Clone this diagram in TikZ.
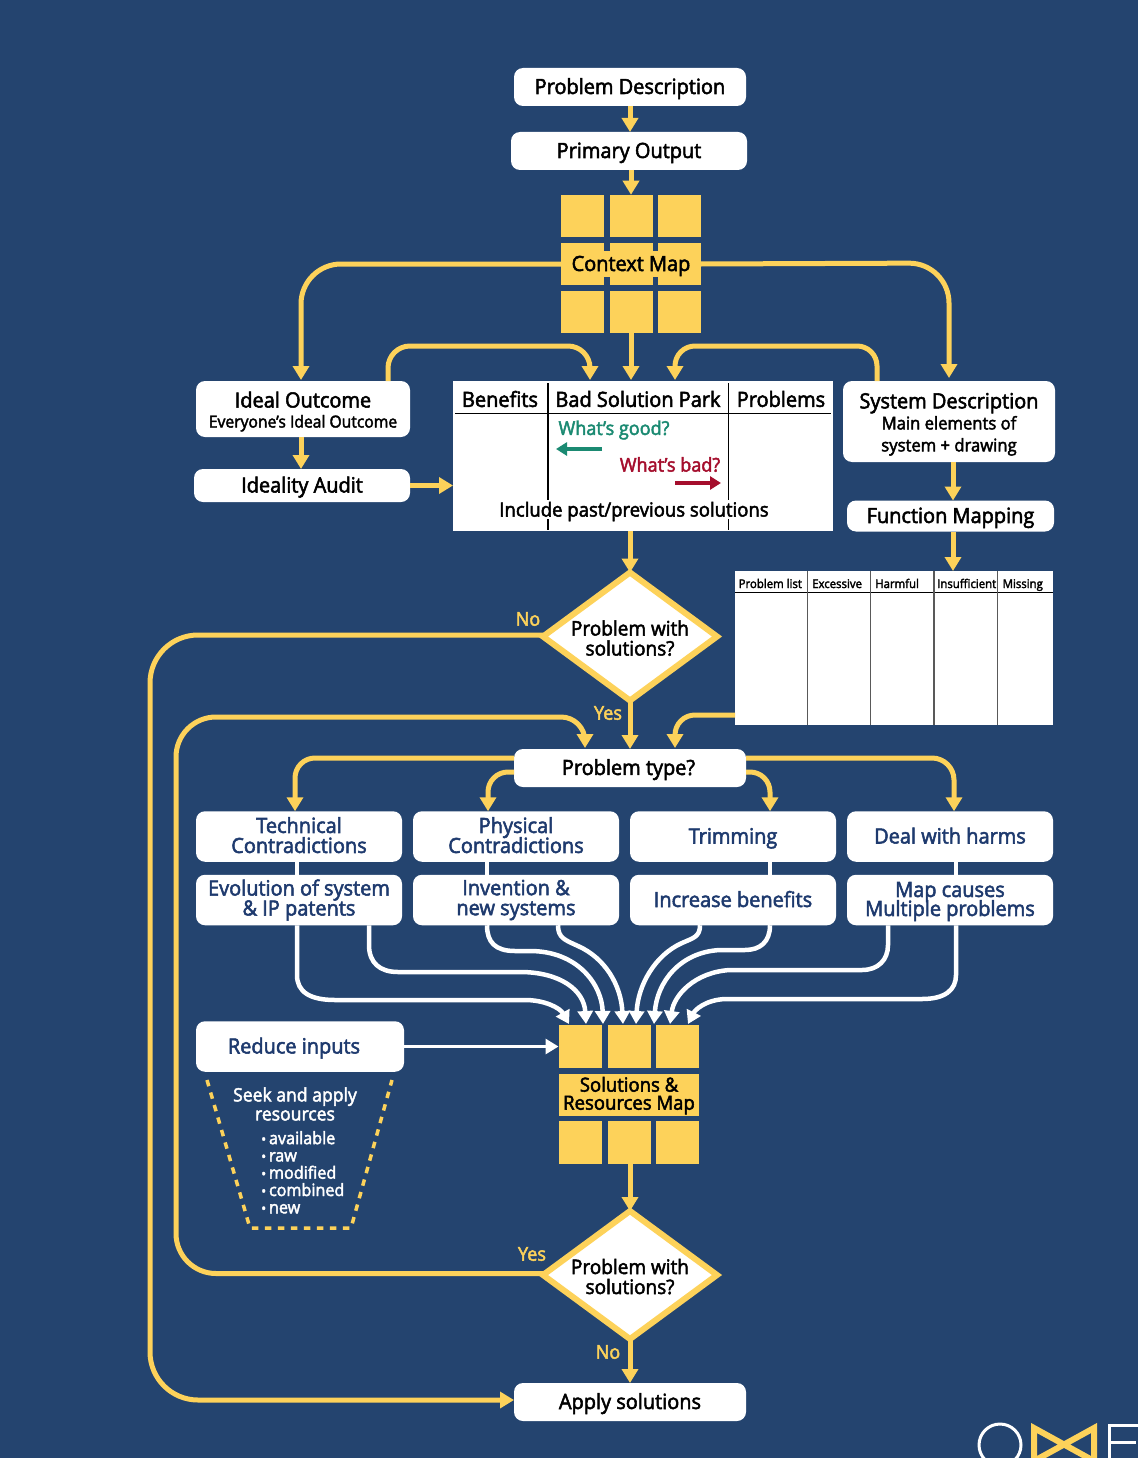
\documentclass[tikz,border=0pt]{standalone}
\usepackage{fontspec}
\setmainfont{Open Sans}[FakeStretch=0.95,FakeBold=2.5]
\usepackage{xcolor}
\usetikzlibrary{shapes.geometric,arrows.meta}
\definecolor{navybg}{HTML}{24446F}
\definecolor{navytext}{HTML}{1E3A6E}
\definecolor{mapyellow}{HTML}{FDD25A}
\definecolor{goodgreen}{HTML}{1B8A72}
\definecolor{badred}{HTML}{A50E2D}
\lineskiplimit=-100pt
\newcommand{\fsz}[2]{\fontsize{#1}{#2}\selectfont}
\newcommand{\vstrut}{\rule[-6pt]{0pt}{26pt}}
\newcommand{\twostrut}{\rule[-3pt]{0pt}{17pt}}

\begin{document}
\begin{tikzpicture}[x=1pt,y=-1pt]
        % Styles for boxes, map cells and the two sorts of arrow
        \tikzset{
            whitebox/.style={fill=white, rounded corners=9pt, inner sep=0pt, outer sep=0pt, align=center, font=\fsz{21}{20}},
            typebox/.style={whitebox, text=navytext, minimum width=206pt, minimum height=50.5pt},
            mapcell/.style={fill=mapyellow, inner sep=0pt, outer sep=0pt, minimum width=43pt, minimum height=42.5pt},
            decision/.style={diamond, shape aspect=1.36, draw=mapyellow, line width=6pt, fill=white, inner sep=-5pt, outer sep=0pt, align=center, minimum width=174pt, minimum height=128pt, font=\fsz{20}{20}},
            yarrow/.style={draw=mapyellow, line width=5pt, -{Triangle[width=16pt,length=14pt]}},
            warrow/.style={draw=white, line width=4.5pt, -{Triangle[width=15pt,length=13pt]}},
            wline/.style={draw=white, line width=4.5pt},
            answer/.style={text=mapyellow, inner sep=0pt, font=\fsz{19}{19}},
            columnhead/.style={anchor=base west, inner sep=0pt, font=\fsz{12}{12}},
            tablehead/.style={inner sep=0pt, font=\fsz{21}{21}}
        }

        % Background
        \fill[navybg] (0,0) rectangle (1138,1458);
        \useasboundingbox (0,0) rectangle (1138,1458);

        % Top boxes
        \node (probdesc) [whitebox, minimum width=232pt, minimum height=38pt] at (630,87) {\vstrut Problem Description};
        \node (primary) [whitebox, minimum width=236pt, minimum height=38pt] at (629,151) {\vstrut Primary Output};

        % Context map cells
        \foreach \col/\cx in {a/582.5,b/631,c/679.5}
            \foreach \row/\cy in {top/216,mid/264,bot/312}
                \node (cm\col\row) [mapcell] at (\cx,\cy) {};
        \node (cmlabel) [fill=mapyellow, inner sep=0pt, minimum width=116pt, minimum height=24pt, font=\fsz{21}{21}] at (631,264) {\vstrut Context Map};

        % Side boxes
        \node (ideal) [whitebox, minimum width=214pt, minimum height=56pt] at (303,409) {\rule{0pt}{21pt}Ideal Outcome\\{\fsz{16.5}{18}\rule[-2pt]{0pt}{2pt}Everyone’s Ideal Outcome}};
        \node (audit) [whitebox, minimum width=216pt, minimum height=33pt] at (302,485.5) {\vstrut Ideality Audit};
        \node (sysdesc) [whitebox, minimum width=212pt, minimum height=81pt] at (949,421.5) {\rule{0pt}{21pt}System Description\\[1pt]{\fsz{17.5}{22}Main elements of}\\[2pt]{\fsz{17.5}{22}\rule[-2pt]{0pt}{2pt}system + drawing}};
        \node (funcmap) [whitebox, minimum width=207pt, minimum height=31pt] at (950.5,516) {\vstrut Function Mapping};

        % Bad solution park table
        \node (park) [fill=white, inner sep=0pt, outer sep=0pt, minimum width=380pt, minimum height=150pt] at (643,456) {};
        \draw[black, line width=1.6pt] (455,413.5) -- (831,413.5);
        \draw[black, line width=1.6pt] (548,383) -- (548,500) (548,519) -- (548,530);
        \draw[black, line width=1.6pt] (728.5,383) -- (728.5,500) (728.5,519) -- (728.5,530);
        \node (benefits) [tablehead] at (500,399) {Benefits};
        \node (badpark) [tablehead] at (638,399) {Bad Solution Park};
        \node (problems) [tablehead] at (781,399) {Problems};
        \node (good) [inner sep=0pt, text=goodgreen, font=\fsz{19}{19}] at (614,430) {What’s good?};
        \node (bad) [inner sep=0pt, text=badred, font=\fsz{19}{19}] at (670,464.5) {What’s bad?};
        \coordinate (goodtail) at (602,449);
        \coordinate (goodtip) at (556,449);
        \coordinate (badtail) at (675,483);
        \coordinate (badtip) at (721,483);
        \draw[goodgreen, line width=4pt, -{Triangle[width=13pt,length=11pt]}] (goodtail) -- (goodtip);
        \draw[badred, line width=4pt, -{Triangle[width=13pt,length=11pt]}] (badtail) -- (badtip);
        \node (include) [inner sep=0pt, font=\fsz{19.5}{19.5}] at (634,511.5) {Include past/previous solutions};

        % Function mapping table
        \node (ftable) [fill=white, inner sep=0pt, outer sep=0pt, minimum width=318pt, minimum height=154pt] at (894,648) {};
        \draw[black, line width=1.2pt] (735,592.5) -- (1053,592.5);
        \foreach \cx in {807.5,870.5,934,997.5}
            \draw[black!65, line width=1.3pt] (\cx,571) -- (\cx,725);
        \node (plist) [columnhead] at (738.5,588) {Problem list};
        \node (excess) [columnhead] at (812,588) {Excessive};
        \node (harmful) [columnhead] at (875,588) {Harmful};
        \node (insuff) [columnhead] at (937,588) {Insufficient};
        \node (missing) [columnhead] at (1002.5,588) {Missing};

        % Decisions and problem type
        \node (checkone) [decision] at (630,636.5) {\rule{0pt}{19pt}Problem with\\\rule[-1pt]{0pt}{1pt}solutions?};
        \node (checktwo) [decision] at (630,1275) {\rule{0pt}{19pt}Problem with\\\rule[-1pt]{0pt}{1pt}solutions?};
        \node (ptype) [whitebox, minimum width=232pt, minimum height=38pt] at (630,768) {\rule[-5pt]{0pt}{24pt}\hspace*{-3pt}Problem type?};
        \node (apply) [whitebox, minimum width=232pt, minimum height=38pt] at (630,1402) {\vstrut Apply solutions};

        % Problem type boxes
        \node (tech) [typebox] at (299,836.5) {\twostrut Technical\\\twostrut Contradictions};
        \node (phys) [typebox] at (516,836.5) {\twostrut Physical\\\twostrut Contradictions};
        \node (trim) [typebox] at (733,836.5) {\vstrut Trimming};
        \node (harms) [typebox] at (950,836.5) {\vstrut Deal with harms};
        \node (evol) [typebox] at (299,900) {\twostrut Evolution of system\\\twostrut\& IP patents};
        \node (invent) [typebox] at (516,900) {\twostrut Invention \&\\\twostrut new systems};
        \node (increase) [typebox] at (733,900) {\vstrut Increase benefits};
        \node (causes) [typebox] at (950,900) {\rule{0pt}{18pt}Map causes\\[-1pt]\twostrut Multiple problems};
        \node (reduce) [typebox, minimum width=208pt] at (300,1046.5) {\vstrut\hspace*{-12pt}Reduce inputs};

        % Solutions map cells
        \foreach \col/\cx in {a/580,b/629,c/677.5}
            \foreach \row/\cy in {top/1046.5,bot/1142.5}
                \node (sm\col\row) [mapcell, minimum height=43pt] at (\cx,\cy) {};
        \node (smlabel) [fill=mapyellow, inner sep=0pt, outer sep=0pt, align=center, minimum width=140pt, minimum height=42.5pt, font=\fsz{19.5}{18}] at (629,1095) {\rule{0pt}{16pt}Solutions \&\\Resources Map};

        % Resources note with its dashed surround
        \node (seek) [inner sep=0pt, align=center, text=white, font=\fsz{18.5}{19}] at (295,1104) {Seek and apply\\resources};
        \node (reslist) [anchor=north west, inner sep=0pt, align=left, text=white, font=\fsz{17}{17.3}] at (261,1131) {{\fsz{14}{17.3}•}\,available\\{\fsz{14}{17.3}•}\,raw\\{\fsz{14}{17.3}•}\,modified\\{\fsz{14}{17.3}•}\,combined\\{\fsz{14}{17.3}•}\,new};
        \coordinate (dashtl) at (207,1080);
        \coordinate (dashbl) at (250,1228);
        \coordinate (dashbr) at (351,1228);
        \coordinate (dashtr) at (392,1080);
        \draw[mapyellow, line width=3.5pt, dash pattern=on 6.5pt off 6.5pt] (dashtl) -- (dashbl) -- (dashbr) -- (dashtr);

        % Yes and no labels
        \node (noone) [answer] at (528,619) {No};
        \node (yesone) [answer] at (608,713) {Yes};
        \node (yestwo) [answer] at (532,1254) {Yes};
        \node (notwo) [answer] at (608,1352) {No};

        % Yellow connectors, top part
        \draw[yarrow] (probdesc.south) -- (primary.north -| probdesc.south);
        \draw[yarrow] ([xshift=2pt]primary.south) -- (cmbtop.north);
        \draw[yarrow] (cmbbot.south) -- ([yshift=1pt]cmbbot.south |- park.north);
        \draw[yarrow, rounded corners=40pt] (cmamid.west) -- (301,264) -- ([xshift=-2pt,yshift=1pt]ideal.north);
        \draw[yarrow, rounded corners=40pt] (cmcmid.east) -- (949,263) -- ([yshift=3pt]sysdesc.north);
        \draw[yarrow, rounded corners=22pt] ([xshift=85pt]ideal.north) -- (388,346) -- (590,346) -- (590,380);
        \draw[yarrow, rounded corners=20pt] ([xshift=-72pt]sysdesc.north) -- (877,346) -- (675,346) -- (675,380);
        \draw[yarrow] ([xshift=-2pt]ideal.south) -- ([xshift=-1pt]audit.north);
        \draw[yarrow] (audit.east) -- (park.west |- audit.east);
        \draw[yarrow] ([xshift=4pt]sysdesc.south) -- ([xshift=2.5pt]funcmap.north);
        \draw[yarrow] ([xshift=2.5pt]funcmap.south) -- (ftable.north -| 953,0);

        % Yellow connectors, decisions
        \draw[yarrow] ([xshift=-13pt]park.south) -- (checkone.north);
        \draw[yarrow, rounded corners=48pt] ([yshift=1.5pt]checkone.west) -- (150,635) -- (150,1400) -- ([yshift=2pt]apply.west);
        \draw[yarrow] (checkone.south) -- (ptype.north -| checkone.south);
        \draw[yarrow] ([yshift=1.5pt]checktwo.west) [rounded corners=40pt] -- (176,1273.5) -- (176,717) [rounded corners=24pt] -- (585,717) -- (585,748);
        \draw[yarrow, rounded corners=20pt] (ftable.west |- 0,715) -- (675,715) -- (675,748);
        \draw[yarrow] ([xshift=1pt]smbbot.south) -- (checktwo.north);
        \draw[yarrow] (checktwo.south) -- (apply.north -| checktwo.south);

        % Yellow connectors, problem type
        \draw[yarrow, rounded corners=20pt] (ptype.west |- 0,758) -- (295,758) -- (tech.north -| 295,0);
        \draw[yarrow, rounded corners=20pt] (ptype.west |- 0,772) -- (488,772) -- (phys.north -| 488,0);
        \draw[yarrow, rounded corners=20pt] (ptype.east |- 0,772) -- (770,772) -- (trim.north -| 770,0);
        \draw[yarrow, rounded corners=22pt] (ptype.east |- 0,758) -- (954,758) -- (harms.north -| 954,0);

        % White links between the paired boxes
        \draw[wline] ([xshift=-2pt]tech.south) -- ([xshift=-2pt]evol.north);
        \draw[wline] ([xshift=-29pt]phys.south) -- ([xshift=-29pt]invent.north);
        \draw[wline] ([xshift=37pt]trim.south) -- ([xshift=37pt]increase.north);
        \draw[wline] ([xshift=6pt]harms.south) -- ([xshift=6pt]causes.north);

        % White arrows into the solutions map
        \foreach \n/\cx in {a/569,b/586,c/603,d/623,e/636,f/654,g/670,h/688}
            \coordinate (tip\n) at (\cx,1024);
        \draw[warrow] ([xshift=-2pt]evol.south) -- (297,975) .. controls (297,992) and (310,1000) .. (335,1000) -- (525,1000) .. controls (545,1000) and (560,1008) .. (tipa);
        \draw[warrow] ([xshift=70pt]evol.south) -- (369,945) .. controls (369,963) and (380,972) .. (398,972) -- (520,972) .. controls (560,972) and (584,990) .. (tipb);
        \draw[warrow] ([xshift=-29pt]invent.south) .. controls (487,942) and (495,951) .. (515,951) -- (530,951) .. controls (578,951) and (602,985) .. (tipc);
        \draw[warrow] ([xshift=42pt]invent.south) .. controls (558,938) and (565,940) .. (578,946) .. controls (605,958) and (621,985) .. (tipd);
        \draw[warrow] ([xshift=-33pt]increase.south) .. controls (700,937) and (693,938) .. (682,943) .. controls (655,955) and (638,985) .. (tipe);
        \draw[warrow] ([xshift=37pt]increase.south) .. controls (770,942) and (760,950) .. (745,950) -- (720,950) .. controls (680,952) and (657,982) .. (tipf);
        \draw[warrow] ([xshift=-62pt]causes.south) -- (888,945) .. controls (888,960) and (878,970) .. (862,970) -- (730,970) .. controls (695,972) and (674,995) .. (tipg);
        \draw[warrow] ([xshift=6pt]causes.south) -- (956,975) .. controls (956,990) and (945,999) .. (922,999) -- (725,999) .. controls (705,1000) and (695,1010) .. (tiph);
        \draw[warrow, line width=3pt] (reduce.east) -- (smatop.west);

        % Logo at the cut edge of the page
        \begin{scope}
            \clip (0,0) rectangle (1138,1458);
            \draw[white, line width=3pt] (1000,1445) circle (21pt);
            \draw[mapyellow, line width=6pt, line join=miter] (1034,1428) -- (1094,1461) -- (1094,1428) -- (1034,1461) -- cycle;
            \draw[white, line width=3pt] (1139,1425) -- (1109,1425) -- (1109,1460) (1109,1442) -- (1136,1442);
        \end{scope}
\end{tikzpicture}
\end{document}
